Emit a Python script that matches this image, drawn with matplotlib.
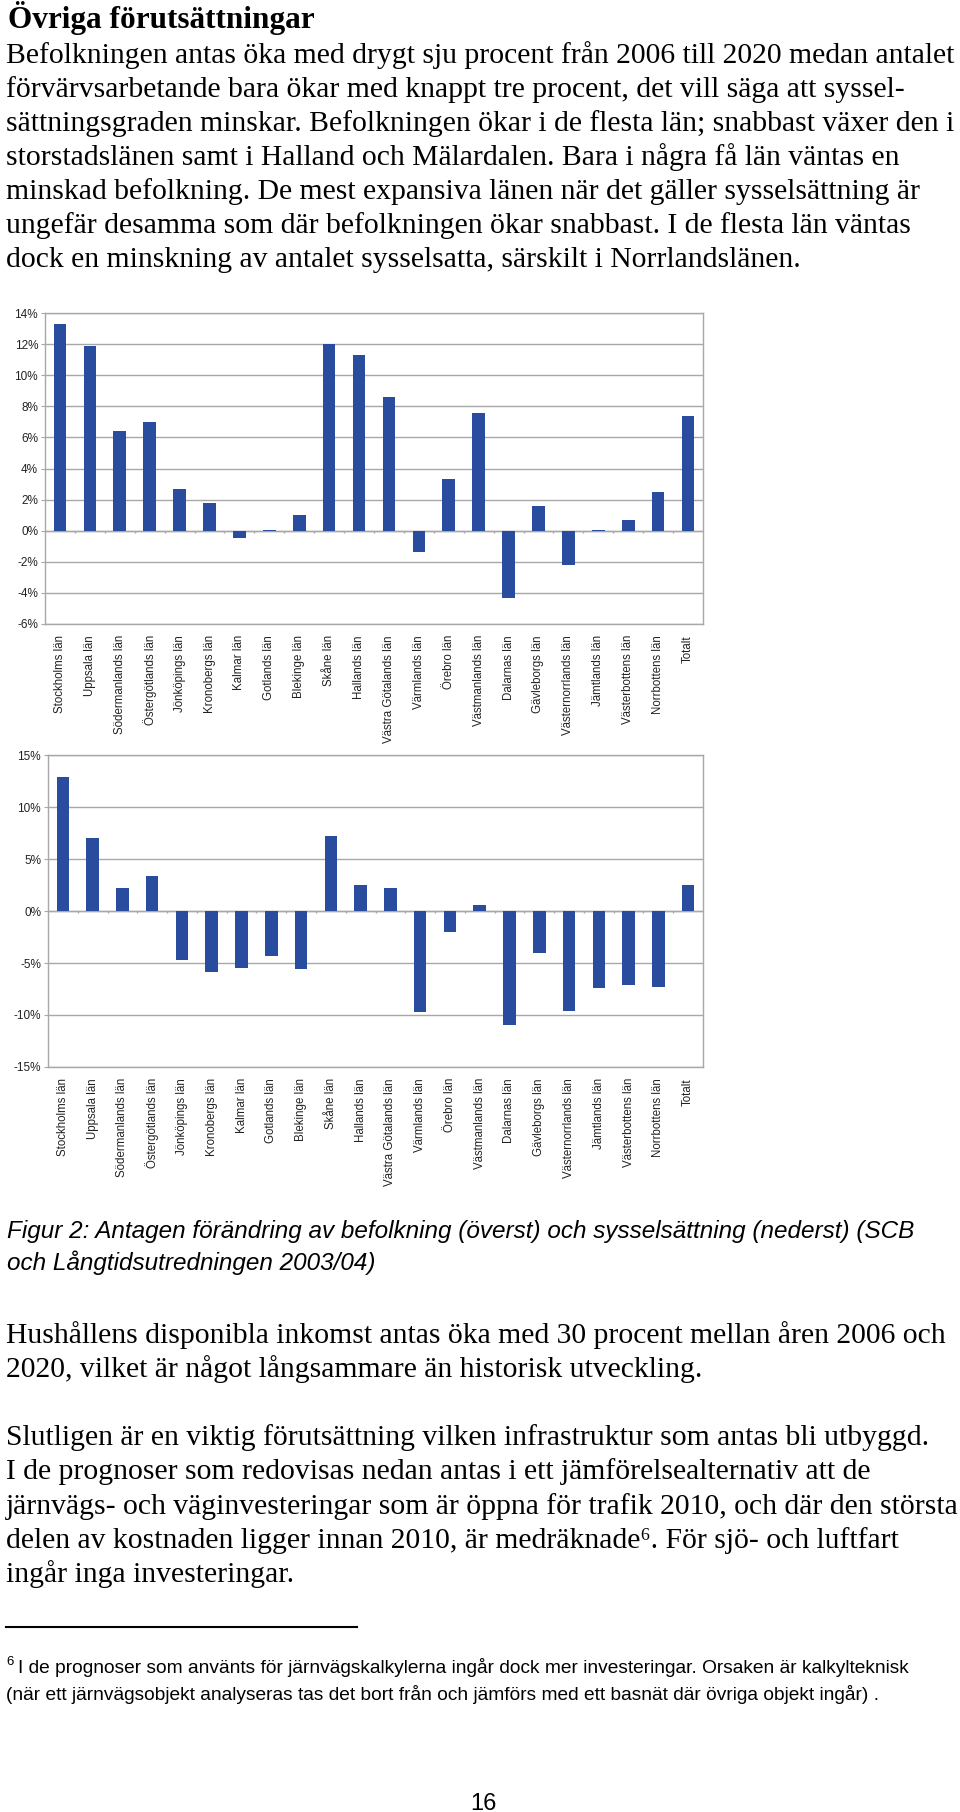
import matplotlib
matplotlib.use("Agg")
import matplotlib.pyplot as plt
from matplotlib.lines import Line2D
import numpy as np

W, H = 960, 1812

categories = ["Stockholms län", "Uppsala län", "Södermanlands län", "Östergötlands län",
              "Jönköpings län", "Kronobergs län", "Kalmar län", "Gotlands län",
              "Blekinge län", "Skåne län", "Hallands län", "Västra Götalands län",
              "Värmlands län", "Örebro län", "Västmanlands län", "Dalarnas län",
              "Gävleborgs län", "Västernorrlands län", "Jämtlands län",
              "Västerbottens län", "Norrbottens län", "Totalt"]

befolkning = [13.3, 11.9, 6.4, 7.0, 2.7, 1.75, -0.5, 0.05, 1.0, 12.0, 11.3, 8.6,
              -1.4, 3.3, 7.6, -4.3, 1.6, -2.2, 0.05, 0.7, 2.5, 7.4]

sysselsattning = [12.9, 7.0, 2.2, 3.4, -4.7, -5.9, -5.5, -4.3, -5.6, 7.2, 2.5, 2.2,
                  -9.7, -2.0, 0.55, -11.0, -4.0, -9.6, -7.4, -7.1, -7.3, 2.5]

yticks1 = [-6, -4, -2, 0, 2, 4, 6, 8, 10, 12, 14]
yticks2 = [-15, -10, -5, 0, 5, 10, 15]

title = "Övriga förutsättningar"
para1 = ["Befolkningen antas öka med drygt sju procent från 2006 till 2020 medan antalet",
         "förvärvsarbetande bara ökar med knappt tre procent, det vill säga att syssel-",
         "sättningsgraden minskar. Befolkningen ökar i de flesta län; snabbast växer den i",
         "storstadslänen samt i Halland och Mälardalen. Bara i några få län väntas en",
         "minskad befolkning. De mest expansiva länen när det gäller sysselsättning är",
         "ungefär desamma som där befolkningen ökar snabbast. I de flesta län väntas",
         "dock en minskning av antalet sysselsatta, särskilt i Norrlandslänen."]
caption = ["Figur 2: Antagen förändring av befolkning (överst) och sysselsättning (nederst) (SCB",
           "och Långtidsutredningen 2003/04)"]
para2 = ["Hushållens disponibla inkomst antas öka med 30 procent mellan åren 2006 och",
         "2020, vilket är något långsammare än historisk utveckling."]
para3 = ["Slutligen är en viktig förutsättning vilken infrastruktur som antas bli utbyggd.",
         "I de prognoser som redovisas nedan antas i ett jämförelsealternativ att de",
         "järnvägs- och väginvesteringar som är öppna för trafik 2010, och där den största",
         "delen av kostnaden ligger innan 2010, är medräknade\u2076. För sjö- och luftfart",
         "ingår inga investeringar."]
footnote = ["I de prognoser som använts för järnvägskalkylerna ingår dock mer investeringar. Orsaken är kalkylteknisk",
            "(när ett järnvägsobjekt analyseras tas det bort från och jämförs med ett basnät där övriga objekt ingår) ."]

BAR = "#2A4C9E"
GRID = "#A8A8A8"
SERIF = ["Liberation Serif", "DejaVu Serif"]
SANS = ["Liberation Sans", "DejaVu Sans"]
BODY = 21.3

fig = plt.figure(figsize=(W / 100, H / 100), dpi=100)


def fy(y):
    return 1 - y / H


def fx(x):
    return x / W


def chart(rect, values, yticks, ylim):
    l, t, r, b = rect
    ax = fig.add_axes([fx(l), fy(b), fx(r) - fx(l), fy(t) - fy(b)])
    x = np.arange(len(categories))
    ax.bar(x, values, width=0.42, color=BAR, zorder=3)
    ax.set_xlim(-0.5, len(categories) - 0.5)
    ax.set_ylim(*ylim)
    ax.set_yticks(yticks)
    ax.set_yticklabels([f"{v}%" for v in yticks], family=SANS, fontsize=8.5, color="#222222")
    ax.yaxis.grid(True, color=GRID, linewidth=1.0, zorder=1)
    ax.set_xticks(x)
    ax.set_xticklabels(categories, rotation=90, family=SANS, fontsize=8.3,
                       va="top", ha="center", color="#222222")
    ax.tick_params(axis="x", length=0, pad=8)
    ax.tick_params(axis="y", length=3, color=GRID, pad=2)
    for s in ax.spines.values():
        s.set_color(GRID)
        s.set_linewidth(1.0)
    ax.axhline(0, color=GRID, linewidth=1.0, zorder=2)
    span = ylim[1] - ylim[0]
    ax.vlines(np.arange(0.5, len(categories) - 0.5, 1), -span * 0.008, 0,
              color=GRID, linewidth=1.0, zorder=2)
    return ax


chart((45, 313, 703, 624), befolkning, yticks1, (-6, 14))
chart((48, 755, 703, 1067), sysselsattning, yticks2, (-15, 15))

# Text
fig.text(fx(8), fy(28), title, family=SERIF, fontsize=22.5, fontweight="bold",
         va="baseline", ha="left")
for i, line in enumerate(para1):
    fig.text(fx(6), fy(63 + i * 34.0), line, family=SERIF, fontsize=BODY,
             va="baseline", ha="left")

for i, line in enumerate(caption):
    fig.text(fx(7), fy(1238 + i * 32), line, family=SANS, fontsize=17.5, style="italic",
             va="baseline", ha="left")

for i, line in enumerate(para2):
    fig.text(fx(6), fy(1343 + i * 34), line, family=SERIF, fontsize=BODY,
             va="baseline", ha="left")

for i, line in enumerate(para3):
    fig.text(fx(6), fy(1445 + i * 34.3), line, family=SERIF, fontsize=BODY,
             va="baseline", ha="left")

fig.add_artist(Line2D([fx(6), fx(357)], [fy(1627), fy(1627)], color="black", linewidth=1.5))

fig.text(fx(6), fy(1665), "6", family=SANS, fontsize=9.5, va="baseline", ha="left")
fig.text(fx(18), fy(1673), footnote[0], family=SANS, fontsize=13.8, va="baseline", ha="left")
fig.text(fx(6), fy(1700), footnote[1], family=SANS, fontsize=13.8, va="baseline", ha="left")

fig.text(fx(483), fy(1810), "16", family=SANS, fontsize=17, va="baseline", ha="center")

fig.savefig("out.png", dpi=100)
